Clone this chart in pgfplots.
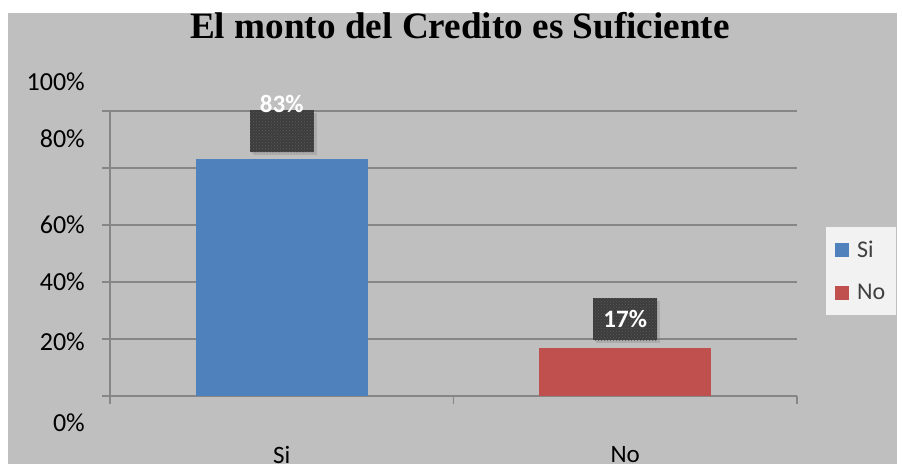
\documentclass[border=0pt]{standalone}
\usepackage{pgfplots}
\pgfplotsset{compat=1.18}
\usepackage{fontspec}
\setmainfont{Carlito}
\newfontfamily\titlefont{Liberation Serif}
\usetikzlibrary{patterns,shadows}
\definecolor{bggray}{HTML}{BFBFBF}
\definecolor{gridgray}{HTML}{868686}
\definecolor{barblue}{HTML}{4F81BD}
\definecolor{barred}{HTML}{C0504D}
\definecolor{lblbox}{HTML}{3D3D3D}
\definecolor{lbldot}{HTML}{5A5A5A}
\definecolor{leggray}{HTML}{F2F2F2}
\definecolor{legtext}{HTML}{404040}
\begin{document}
\begin{tikzpicture}
\useasboundingbox (0,0) rectangle (903pt,468pt);
\fill[white] (0,0) rectangle (903pt,468pt);
\fill[bggray] (8pt,4pt) rectangle (897pt,455pt);
\begin{axis}[
  at={(110pt,72pt)}, anchor=south west,
  scale only axis, width=687pt, height=285pt,
  xmin=-0.5, xmax=1.5, ymin=0, ymax=100,
  axis x line*=bottom, axis y line*=left,
  axis line style={gridgray, line width=1.5pt},
  xtick={-0.5,0.5,1.5}, x tick label as interval, xticklabels={Si,No},
  ytick={0,20,40,60,80,100},
  yticklabels={{\smash{\raisebox{-36pt}{0\%}}},{\smash{\raisebox{-12pt}{20\%}}},{\smash{\raisebox{-9pt}{40\%}}},{\smash{\raisebox{-9pt}{60\%}}},{\smash{\raisebox{20pt}{80\%}}},{\smash{\raisebox{20pt}{100\%}}}},
  tick align=outside, major tick length=8pt,
  tick style={gridgray, line width=1.5pt},
  ymajorgrids, grid style={gridgray, line width=1.5pt},
  /pgf/number format/assume math mode=true,
  yticklabel style={font=\fontsize{26}{30}\selectfont, anchor=east, inner sep=0pt, xshift=-17pt, text=black},
  xticklabel style={font=\fontsize{25}{30}\selectfont, anchor=north, inner sep=0pt, yshift=-42pt, text=black},
  title={El monto del Credito es Suficiente},
  title style={font=\titlefont\bfseries\fontsize{37.2}{40}\selectfont, at={(axis description cs:0.5095,1.2316)}, anchor=base, inner sep=0pt},
  legend style={at={(1.0422,0.593)}, anchor=north west, fill=leggray, draw=none,
    font=\fontsize{24}{28}\selectfont, text=legtext, row sep=21pt,
    inner xsep=9pt, inner ysep=12pt,
    /tikz/every odd column/.append style={column sep=6pt}},
  legend cell align=left,
  clip=false,
]
\addplot[ybar, bar width=172pt, bar shift=0pt, fill=barblue, draw=none,
  legend image code/.code={\fill[barblue] (0pt,-7pt) rectangle (14pt,7pt);},
  nodes near coords={\smash{\raisebox{19pt}{\pgfmathprintnumber{\pgfplotspointmeta}\%}}},
  nodes near coords style={anchor=south, yshift=7pt, inner sep=0pt, minimum width=64pt, minimum height=42pt,
    fill=lblbox, text=white, font=\bfseries\fontsize{25}{30}\selectfont,
    drop shadow={opacity=0.3, shadow xshift=3pt, shadow yshift=-3pt},
    postaction={pattern=crosshatch dots, pattern color=lbldot}}]
  coordinates {(0,83)};
\addlegendentry{Si}
\addplot[ybar, bar width=172pt, bar shift=0pt, fill=barred, draw=none,
  legend image code/.code={\fill[barred] (0pt,-7pt) rectangle (14pt,7pt);},
  nodes near coords={\pgfmathprintnumber{\pgfplotspointmeta}\%},
  nodes near coords style={anchor=south, yshift=7pt, inner sep=0pt, minimum width=64pt, minimum height=42pt,
    fill=lblbox, text=white, font=\bfseries\fontsize{25}{30}\selectfont,
    drop shadow={opacity=0.3, shadow xshift=3pt, shadow yshift=-3pt},
    postaction={pattern=crosshatch dots, pattern color=lbldot}}]
  coordinates {(1,17)};
\addlegendentry{No}
\end{axis}
\end{tikzpicture}
\end{document}
